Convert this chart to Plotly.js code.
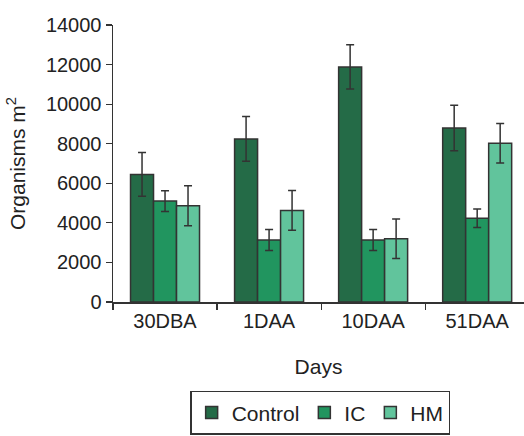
<!DOCTYPE html>
<html>
<head>
<meta charset="utf-8">
<script src="https://cdn.plot.ly/plotly-3.0.1.min.js"></script>
<style>html,body{margin:0;padding:0;background:#fff;}#chart{width:524px;height:436px;}</style>
</head>
<body>
<div id="chart"></div>
<script>
var categories = ["30DBA", "1DAA", "10DAA", "51DAA"];
var seriesNames = ["Control", "IC", "HM"];
var controlValues = [6450, 8240, 11880, 8790];
var controlErrors = [1100, 1130, 1120, 1150];
var icValues = [5100, 3130, 3130, 4230];
var icErrors = [520, 530, 530, 470];
var hmValues = [4870, 4630, 3200, 8020];
var hmErrors = [1010, 1000, 1000, 1000];
var yTicks = [0, 2000, 4000, 6000, 8000, 10000, 12000, 14000];

var colors = ["#246b47", "#21955f", "#61c49c"];
var FONT = "'Liberation Sans', Arial, sans-serif";
var values = [controlValues, icValues, hmValues];
var errors = [controlErrors, icErrors, hmErrors];

var traces = seriesNames.map(function (name, i) {
  return {
    type: "bar",
    name: name,
    x: categories,
    y: values[i],
    marker: { color: colors[i], line: { color: "#333333", width: 1.5 } },
    error_y: { type: "data", array: errors[i], visible: true, color: "#333333", thickness: 1.5, width: 4 }
  };
});

var layout = {
  width: 524,
  height: 436,
  margin: { l: 113, r: 0, t: 25, b: 134, pad: 0 },
  paper_bgcolor: "#ffffff",
  plot_bgcolor: "#ffffff",
  barmode: "group",
  bargap: 0.337,
  bargroupgap: 0,
  font: { family: FONT, size: 20, color: "#222222" },
  xaxis: {
    type: "category",
    range: [-0.5, 3.45],
    showline: true,
    linecolor: "#333333",
    linewidth: 1.5,
    ticks: "outside",
    tickson: "boundaries",
    ticklen: 6,
    tickcolor: "#333333",
    tickwidth: 1.2,
    showgrid: false,
    zeroline: false,
    tickfont: { family: FONT, size: 20, color: "#222222" },
    title: { text: "Days", font: { family: FONT, size: 21, color: "#222222" }, standoff: 29 }
  },
  yaxis: {
    range: [0, 14000],
    tickvals: yTicks,
    ticktext: yTicks.map(String),
    showline: true,
    linecolor: "#333333",
    linewidth: 1.5,
    ticks: "outside",
    ticklen: 6,
    tickcolor: "#333333",
    tickwidth: 1.2,
    showgrid: false,
    zeroline: false,
    tickfont: { family: FONT, size: 20, color: "#222222" },
    title: { text: "Organisms m<sup>2</sup>", font: { family: FONT, size: 21, color: "#222222" }, standoff: 14 }
  },
  showlegend: true,
  legend: {
    orientation: "h",
    x: 0.504,
    xanchor: "center",
    y: -0.321,
    yanchor: "top",
    bordercolor: "#333333",
    borderwidth: 1.5,
    bgcolor: "#ffffff",
    font: { family: FONT, size: 21, color: "#222222" },
    traceorder: "normal"
  }
};

Plotly.newPlot("chart", traces, layout, { displayModeBar: false, staticPlot: true });
</script>
</body>
</html>
